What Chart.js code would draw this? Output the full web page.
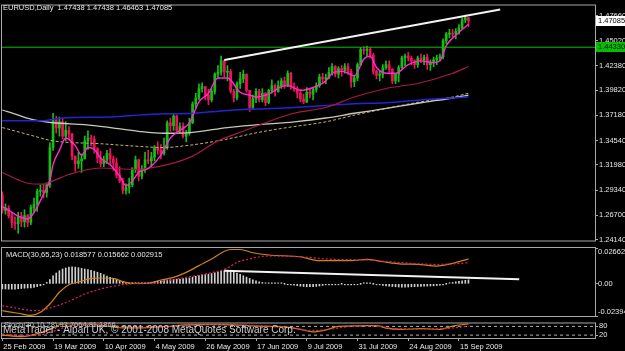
<!DOCTYPE html>
<html>
<head>
<meta charset="utf-8">
<script src="https://cdn.jsdelivr.net/npm/chart.js@4.4.0/dist/chart.umd.min.js"></script>
<style>
  html, body { margin: 0; padding: 0; background: #000; }
  #wrap { position: relative; width: 625px; height: 351px; background: #000; overflow: hidden; }
  canvas { position: absolute; left: 0; }
</style>
</head>
<body>
<div id="wrap">
  <canvas id="main" width="625" height="246" style="top:0px"></canvas>
  <canvas id="macd" width="625" height="72" style="top:246px"></canvas>
  <canvas id="stoch" width="625" height="33" style="top:318px"></canvas>
</div>
<script>
// EURUSD daily bars, 25 Feb 2009 .. 18 Sep 2009 (one row per week)
const symbolTitle = 'EURUSD,Daily';
const opens = [1.2880, 1.2720, 1.2745,
  1.2665, 1.2590, 1.2580, 1.2660, 1.2600,
  1.2665, 1.2595, 1.2750, 1.2785, 1.2920,
  1.2930, 1.2910, 1.2990, 1.3380, 1.3670,
  1.3585, 1.3650, 1.3500, 1.3560, 1.3520,
  1.3290, 1.3210, 1.3240, 1.3260, 1.3450,
  1.3480, 1.3470, 1.3370, 1.3270, 1.3210,
  1.3250, 1.3320, 1.3260, 1.3220, 1.3090,
  1.3030, 1.2930, 1.2960, 1.2990, 1.3150,
  1.3250, 1.3080, 1.3160, 1.3250, 1.3240,
  1.3280, 1.3380, 1.3350, 1.3320, 1.3380,
  1.3640, 1.3610, 1.3710, 1.3560, 1.3600,
  1.3500, 1.3530, 1.3640, 1.3840, 1.3900,
  1.4000, 1.4020, 1.3930, 1.3880, 1.3970,
  1.4150, 1.4170, 1.4290, 1.4170, 1.4180,
  1.3970, 1.3900, 1.4050, 1.4100, 1.4150,
  1.3980, 1.3800, 1.3890, 1.3970, 1.3880,
  1.3950, 1.3850, 1.3980, 1.4030, 1.3970,
  1.4030, 1.4080, 1.4030, 1.4160, 1.4020,
  1.4000, 1.3950, 1.3890, 1.3860, 1.3960,
  1.3940, 1.3990, 1.4030, 1.4120, 1.4100,
  1.4110, 1.4170, 1.4230, 1.4150, 1.4210,
  1.4190, 1.4230, 1.4180, 1.4070, 1.4110,
  1.4250, 1.4410, 1.4400, 1.4410, 1.4350,
  1.4180, 1.4140, 1.4150, 1.4220, 1.4250,
  1.4200, 1.4080, 1.4150, 1.4220, 1.4320,
  1.4340, 1.4320, 1.4290, 1.4250, 1.4320,
  1.4300, 1.4330, 1.4250, 1.4270, 1.4300,
  1.4320, 1.4330, 1.4500, 1.4570, 1.4580,
  1.4570, 1.4600, 1.4640, 1.4720, 1.47438];
const highs = [1.2915, 1.2790, 1.2770,
  1.2690, 1.2650, 1.2700, 1.2700, 1.2725,
  1.2680, 1.2775, 1.2850, 1.2945, 1.2985,
  1.2995, 1.3010, 1.3430, 1.3740, 1.3710,
  1.3700, 1.3690, 1.3650, 1.3600, 1.3530,
  1.3290, 1.3330, 1.3310, 1.3500, 1.3555,
  1.3510, 1.3500, 1.3380, 1.3340, 1.3290,
  1.3350, 1.3370, 1.3290, 1.3270, 1.3180,
  1.3060, 1.3000, 1.3060, 1.3170, 1.3290,
  1.3260, 1.3190, 1.3330, 1.3350, 1.3330,
  1.3400, 1.3440, 1.3410, 1.3480, 1.3660,
  1.3690, 1.3740, 1.3720, 1.3640, 1.3640,
  1.3560, 1.3690, 1.3860, 1.3950, 1.4050,
  1.4060, 1.4020, 1.3990, 1.4000, 1.4165,
  1.4240, 1.4340, 1.4300, 1.4240, 1.4200,
  1.3990, 1.4070, 1.4170, 1.4190, 1.4150,
  1.3980, 1.3930, 1.4000, 1.3990, 1.4000,
  1.3960, 1.3990, 1.4090, 1.4050, 1.4080,
  1.4110, 1.4120, 1.4185, 1.4170, 1.4060,
  1.4020, 1.3990, 1.3940, 1.4010, 1.4000,
  1.4010, 1.4060, 1.4150, 1.4160, 1.4150,
  1.4220, 1.4260, 1.4240, 1.4230, 1.4240,
  1.4260, 1.4260, 1.4200, 1.4140, 1.4270,
  1.4430, 1.4440, 1.4445, 1.4430, 1.4370,
  1.4190, 1.4180, 1.4250, 1.4290, 1.4290,
  1.4210, 1.4160, 1.4240, 1.4340, 1.4360,
  1.4380, 1.4340, 1.4300, 1.4340, 1.4360,
  1.4350, 1.4360, 1.4300, 1.4330, 1.4350,
  1.4360, 1.4520, 1.4590, 1.4620, 1.4620,
  1.4630, 1.4670, 1.4740, 1.4770, 1.47438];
const lows = [1.2690, 1.2680, 1.2640,
  1.2540, 1.2520, 1.2480, 1.2550, 1.2545,
  1.2550, 1.2570, 1.2700, 1.2710, 1.2870,
  1.2850, 1.2860, 1.2960, 1.3350, 1.3530,
  1.3500, 1.3470, 1.3450, 1.3460, 1.3250,
  1.3130, 1.3160, 1.3120, 1.3260, 1.3360,
  1.3400, 1.3320, 1.3220, 1.3180, 1.3180,
  1.3210, 1.3200, 1.3140, 1.3060, 1.3010,
  1.2895, 1.2890, 1.2900, 1.2970, 1.3120,
  1.3030, 1.3050, 1.3120, 1.3210, 1.3180,
  1.3240, 1.3310, 1.3260, 1.3300, 1.3360,
  1.3550, 1.3560, 1.3540, 1.3530, 1.3480,
  1.3440, 1.3510, 1.3630, 1.3790, 1.3880,
  1.3960, 1.3880, 1.3830, 1.3860, 1.3940,
  1.4110, 1.4140, 1.4120, 1.4080, 1.3950,
  1.3860, 1.3880, 1.4000, 1.4060, 1.3960,
  1.3760, 1.3780, 1.3850, 1.3860, 1.3860,
  1.3820, 1.3840, 1.3950, 1.3920, 1.3960,
  1.4000, 1.4000, 1.4020, 1.3990, 1.3970,
  1.3900, 1.3860, 1.3840, 1.3850, 1.3900,
  1.3880, 1.3960, 1.4010, 1.4060, 1.4050,
  1.4100, 1.4140, 1.4120, 1.4110, 1.4130,
  1.4160, 1.4150, 1.4010, 1.4020, 1.4080,
  1.4240, 1.4360, 1.4340, 1.4320, 1.4150,
  1.4100, 1.4080, 1.4110, 1.4200, 1.4170,
  1.4050, 1.4050, 1.4070, 1.4210, 1.4240,
  1.4290, 1.4250, 1.4210, 1.4220, 1.4270,
  1.4250, 1.4200, 1.4190, 1.4230, 1.4250,
  1.4290, 1.4310, 1.4470, 1.4530, 1.4540,
  1.4520, 1.4570, 1.4620, 1.4690, 1.46463];
const closes = [1.2720, 1.2745, 1.2665,
  1.2590, 1.2580, 1.2660, 1.2600, 1.2665,
  1.2595, 1.2750, 1.2785, 1.2920, 1.2930,
  1.2910, 1.2990, 1.3380, 1.3670, 1.3585,
  1.3650, 1.3500, 1.3560, 1.3520, 1.3290,
  1.3210, 1.3240, 1.3260, 1.3450, 1.3480,
  1.3470, 1.3370, 1.3270, 1.3210, 1.3250,
  1.3320, 1.3260, 1.3220, 1.3090, 1.3030,
  1.2930, 1.2960, 1.2990, 1.3150, 1.3250,
  1.3080, 1.3160, 1.3250, 1.3240, 1.3280,
  1.3380, 1.3350, 1.3320, 1.3380, 1.3640,
  1.3610, 1.3710, 1.3560, 1.3600, 1.3500,
  1.3530, 1.3640, 1.3840, 1.3900, 1.4000,
  1.4020, 1.3930, 1.3880, 1.3970, 1.4150,
  1.4170, 1.4290, 1.4170, 1.4180, 1.3970,
  1.3900, 1.4050, 1.4100, 1.4150, 1.3980,
  1.3800, 1.3890, 1.3970, 1.3880, 1.3950,
  1.3850, 1.3980, 1.4030, 1.3970, 1.4030,
  1.4080, 1.4030, 1.4160, 1.4020, 1.4000,
  1.3950, 1.3890, 1.3860, 1.3960, 1.3940,
  1.3990, 1.4030, 1.4120, 1.4100, 1.4110,
  1.4170, 1.4230, 1.4150, 1.4210, 1.4190,
  1.4230, 1.4180, 1.4070, 1.4110, 1.4250,
  1.4410, 1.4400, 1.4410, 1.4350, 1.4180,
  1.4140, 1.4150, 1.4220, 1.4250, 1.4200,
  1.4080, 1.4150, 1.4220, 1.4320, 1.4340,
  1.4320, 1.4290, 1.4250, 1.4320, 1.4300,
  1.4330, 1.4250, 1.4270, 1.4300, 1.4320,
  1.4330, 1.4500, 1.4570, 1.4580, 1.4570,
  1.4600, 1.4640, 1.4720, 1.47438, 1.47085];

// moving averages: [bar index, price]
const fastMA = [[0,1.2760],[2,1.2720],[5,1.2660],[8,1.2630],[10,1.2700],[13,1.2890],[15,1.3036],[16,1.3200],
  [18,1.3350],[20,1.3480],[23,1.3400],[25,1.3300],[27,1.3380],[29,1.3360],[31,1.3270],[34,1.3200],[37,1.3080],
  [39,1.2980],[41,1.3030],[43,1.3120],[46,1.3160],[50,1.3300],[53,1.3480],[56,1.3560],[59,1.3640],[62,1.3860],
  [65,1.3950],[68,1.4110],[71,1.4110],[75,1.3960],[78,1.3930],[80,1.3910],[83,1.3930],[85,1.3960],[88,1.4020],
  [90,1.4030],[94,1.3980],[98,1.4010],[102,1.4080],[104,1.4160],[107,1.4180],[109,1.4160],[111,1.4130],
  [114,1.4310],[116,1.4340],[118,1.4220],[121,1.4160],[124,1.4160],[128,1.4250],[132,1.4290],[136,1.4270],
  [138,1.4290],[140,1.4450],[143,1.4560],[147,1.4675]];
const slowMA = [[0,1.3118],[5,1.3040],[9,1.3000],[13,1.2996],[16,1.3030],[21,1.3097],[31,1.3165],[42,1.3150],
  [52,1.3200],[60,1.3290],[68,1.3450],[75,1.3540],[83,1.3640],[88,1.3700],[92,1.3740],[102,1.3800],
  [111,1.3910],[121,1.4000],[132,1.4060],[142,1.4160],[147,1.4230]];
const blueMA = [[0,1.3662],[13,1.3662],[19,1.3690],[34,1.3700],[47,1.3730],[60,1.3740],[71,1.3770],[85,1.3790],
  [92,1.3800],[102,1.3820],[111,1.3840],[121,1.3850],[132,1.3880],[142,1.3900],[147,1.3910]];
const greyMA = [[0,1.3774],[5,1.3720],[10,1.3670],[16,1.3640],[26,1.3620],[34,1.3590],[43,1.3550],[51,1.3530],
  [60,1.3540],[71,1.3590],[81,1.3620],[92,1.3650],[102,1.3690],[111,1.3740],[121,1.3790],[132,1.3850],
  [142,1.3900],[147,1.3930]];
const dashMA = [[0,1.3590],[10,1.3500],[16,1.3450],[31,1.3420],[44,1.3390],[51,1.3380],[58,1.3400],[68,1.3450],
  [81,1.3540],[88,1.3580],[92,1.3600],[102,1.3650],[111,1.3720],[121,1.3790],[132,1.3860],[142,1.3910],[147,1.3950]];
const priceTrend = [[70,1.4300],[157,1.4830]];
const levelPrice = 1.4433;
const priceTicks = [1.4766, 1.4502, 1.4238, 1.3982, 1.3718, 1.3454, 1.3198, 1.2934, 1.2670, 1.2414];

// MACD(30,65,23)
const macdHist = [-0.0038, -0.0039, -0.0040,
  -0.0040, -0.0039, -0.0037, -0.0035, -0.0033,
  -0.0031, -0.0030, -0.0026, -0.0021, -0.0015,
  -0.0008, 0.0010, 0.0032, 0.0060, 0.0080,
  0.0097, 0.0110, 0.0118, 0.0124, 0.0126,
  0.0124, 0.0120, 0.0115, 0.0110, 0.0106,
  0.0100, 0.0094, 0.0086, 0.0078, 0.0068,
  0.0058, 0.0049, 0.0040, 0.0032, 0.0024,
  0.0016, 0.0010, 0.0007, 0.0005, 0.0005,
  0.0004, 0.0005, 0.0006, 0.0008, 0.0012,
  0.0016, 0.0019, 0.0022, 0.0024, 0.0028,
  0.0030, 0.0033, 0.0034, 0.0036, 0.0038,
  0.0040, 0.0044, 0.0050, 0.0056, 0.0062,
  0.0066, 0.0069, 0.0072, 0.0076, 0.0082,
  0.0088, 0.0094, 0.0097, 0.0098, 0.0094,
  0.0088, 0.0080, 0.0070, 0.0060, 0.0050,
  0.0040, 0.0030, 0.0022, 0.0015, 0.0010,
  0.0006, 0.0004, 0.0003, 0.0002, 0.0001,
  0.0001, 0.0000, -0.0003, -0.0006, -0.0010,
  -0.0014, -0.0018, -0.0020, -0.0022, -0.0022,
  -0.0021, -0.0019, -0.0016, -0.0012, -0.0008,
  -0.0005, -0.0003, -0.0002, -0.0001, 0.0000,
  -0.0001, -0.0002, -0.0003, -0.0003, -0.0002,
  0.0000, 0.0002, 0.0003, 0.0002, 0.0000,
  -0.0004, -0.0008, -0.0012, -0.0015, -0.0018,
  -0.0020, -0.0022, -0.0024, -0.0025, -0.0025,
  -0.0024, -0.0022, -0.0021, -0.0020, -0.0019,
  -0.0018, -0.0017, -0.0016, -0.0015, -0.0013,
  -0.0010, -0.0005, 0.0000, 0.0005, 0.0010,
  0.0015, 0.0019, 0.0023, 0.0026, 0.002915];
const macdMain = [[0,-0.0200],[5,-0.0219],[9,-0.0235],[12,-0.0212],[15,-0.0150],[18,-0.0063],[21,-0.0007],
  [25,0.0019],[28,0.0041],[31,0.0043],[35,0.0041],[38,0.0016],[41,0.0004],[46,0.0004],[50,0.0028],[54,0.0048],
  [58,0.0085],[62,0.0135],[66,0.0184],[70,0.0242],[72,0.0255],[75,0.0255],[79,0.0231],[84,0.0214],[94,0.0201],
  [100,0.0172],[110,0.0172],[115,0.0182],[120,0.0164],[126,0.0147],[131,0.0145],[137,0.0132],[142,0.0152],[147,0.018577]];
const macdSignal = [[0,-0.0163],[6,-0.0187],[10,-0.0200],[15,-0.0180],[21,-0.0130],[26,-0.0076],[31,-0.0039],
  [36,-0.0014],[41,0.0000],[47,0.0004],[52,0.0023],[58,0.0048],[65,0.0078],[71,0.0117],[74,0.0160],[77,0.0180],
  [84,0.0207],[94,0.0201],[104,0.0182],[115,0.0177],[126,0.0157],[136,0.0145],[142,0.0148],[147,0.015662]];
const macdTrend = [[70,0.0097],[163,0.0033]];
const macdMax = 0.02662, macdMin = -0.02394;

// Stochastic(30,10,28)
const stochK = [[0,20],[6,10],[12,35],[16,70],[19,98],[24,99],[30,90],[38,70],[46,72],[52,80],[58,90],[66,94],
  [73,91],[80,82],[88,78],[94,60],[98,42],[102,55],[106,80],[112,84],[118,86],[121,68],[126,60],[132,64],
  [138,60],[142,82],[147,97.7664]];
const stochD = [[0,28],[8,16],[14,30],[20,75],[26,95],[34,88],[42,74],[50,76],[58,86],[66,92],[74,90],[82,84],
  [90,74],[98,52],[104,62],[110,80],[118,82],[124,64],[132,62],[140,66],[147,81.1866]];
const stochLevels = [80, 20];

const dateTicks = [0, 16, 32, 48, 64, 80, 96, 112, 128, 144];
const dateLabels = ['25 Feb 2009', '19 Mar 2009', '10 Apr 2009', '4 May 2009', '26 May 2009',
  '17 Jun 2009', '9 Jul 2009', '31 Jul 2009', '24 Aug 2009', '15 Sep 2009'];

const xMin = -0.1, xMax = 186.9;
const bull = '#12c012', bear = '#f0125c', frameColor = '#a8a8a8', textColor = '#e6e6e6';
const FONT = '"Liberation Sans", Arial, sans-serif';

Chart.defaults.font.family = FONT;
Chart.defaults.font.size = 7.5;
Chart.defaults.color = textColor;
Chart.defaults.animation = false;

function pts(arr) { return arr.map(p => ({ x: p[0], y: p[1] })); }

function lineSet(arr, color, width, dash, order) {
  return {
    type: 'line', data: pts(arr), borderColor: color, borderWidth: width, borderDash: dash || [],
    pointRadius: 0, cubicInterpolationMode: 'monotone', fill: false, order: order
  };
}

function hiddenX() {
  return { type: 'linear', display: false, min: xMin, max: xMax, offset: false, grid: { offset: false } };
}

function rightY(min, max, ticks, showLabels, fmt) {
  return {
    position: 'right', min: min, max: max,
    afterFit(axis) { axis.width = 30; },
    afterBuildTicks(axis) { axis.ticks = ticks.map(v => ({ value: v })); },
    grid: { drawOnChartArea: false, drawTicks: true, tickLength: 3, color: frameColor },
    border: { display: true, color: frameColor },
    ticks: { display: showLabels, padding: 1, color: textColor, autoSkip: false, callback: fmt }
  };
}

function drawFrame(chart) {
  const a = chart.chartArea, ctx = chart.ctx;
  ctx.strokeStyle = frameColor;
  ctx.lineWidth = 1;
  ctx.strokeRect(a.left - 0.5, a.top - 0.5, a.right - a.left + 1, a.bottom - a.top + 1);
}

const baseOpts = { responsive: false, devicePixelRatio: 1, events: [],
  plugins: { legend: { display: false }, tooltip: { enabled: false } } };

// ---- main price pane ----
const last = closes.length - 1;
const titleText = symbolTitle + '  ' + [opens[last], highs[last], lows[last], closes[last]].map(v => v.toFixed(5)).join(' ');

new Chart(document.getElementById('main'), {
  type: 'bar',
  data: {
    datasets: [
      { type: 'bar', data: closes.map((c, i) => ({ x: i, y: [lows[i], highs[i]] })),
        backgroundColor: closes.map((c, i) => c >= opens[i] ? bull : bear),
        barThickness: 1, grouped: false, borderWidth: 0, order: 20 },
      { type: 'bar', data: closes.map((c, i) => ({ x: i, y: [opens[i], c] })),
        backgroundColor: closes.map((c, i) => c >= opens[i] ? bull : bear),
        barThickness: 2, grouped: false, borderWidth: 0, minBarLength: 1, borderSkipped: false, order: 19 },
      lineSet(dashMA, '#c8b070', 1, [3, 2], 8),
      lineSet(greyMA, '#c8c8bc', 1.3, [], 7),
      lineSet(blueMA, '#2424d4', 1.5, [], 6),
      lineSet(slowMA, '#a81848', 1.2, [], 5),
      lineSet(fastMA, '#ff2ad0', 1.4, [], 4),
      { type: 'line', data: [{ x: xMin, y: levelPrice }, { x: xMax, y: levelPrice }],
        borderColor: '#00c000', borderWidth: 1, pointRadius: 0, order: 3 },
      { type: 'line', data: pts(priceTrend), borderColor: '#f2f2f2', borderWidth: 2, pointRadius: 0, order: 2 }
    ]
  },
  options: Object.assign({}, baseOpts, {
    layout: { padding: { top: 3, bottom: 1, left: 2, right: 0 } },
    scales: {
      x: hiddenX(),
      y: rightY(1.24041, 1.48710, priceTicks, true, v => Number(v).toFixed(5))
    }
  }),
  plugins: [{
    id: 'mainText',
    afterDraw(chart) {
      const ctx = chart.ctx, a = chart.chartArea, ys = chart.scales.y;
      ctx.save();
      drawFrame(chart);
      ctx.font = '7.5px ' + FONT;
      ctx.textBaseline = 'middle';
      ctx.fillStyle = textColor;
      ctx.fillText(titleText, 3, 8);
      const boxes = [[closes[last], '#ffffff'], [levelPrice, '#00c000']];
      boxes.forEach(b => {
        const py = ys.getPixelForValue(b[0]);
        ctx.fillStyle = b[1];
        ctx.fillRect(a.right + 1, Math.round(py) - 5, 30, 10);
        ctx.fillStyle = '#000';
        ctx.fillText(b[0].toFixed(5), a.right + 3, Math.round(py));
      });
      ctx.restore();
    }
  }]
});

// ---- MACD pane ----
const macdLabels = [[macdMax, macdMax.toFixed(5), 4], [0, '0.00', 0], [macdMin, macdMin.toFixed(5), -4]];
new Chart(document.getElementById('macd'), {
  type: 'bar',
  data: {
    datasets: [
      { type: 'bar', data: macdHist.map((v, i) => ({ x: i, y: v })), backgroundColor: '#cfcfcf',
        barThickness: 1, grouped: false, borderWidth: 0, minBarLength: 1, order: 10 },
      lineSet(macdMain, '#d08412', 1.2, [], 4),
      lineSet(macdSignal, '#e0206a', 1.2, [2, 2], 3),
      { type: 'line', data: pts(macdTrend), borderColor: '#f2f2f2', borderWidth: 2, pointRadius: 0, order: 2 }
    ]
  },
  options: Object.assign({}, baseOpts, {
    layout: { padding: { top: 2, bottom: 2, left: 2, right: 0 } },
    scales: {
      x: hiddenX(),
      y: rightY(macdMin, macdMax, [macdMax, 0, macdMin], false)
    }
  }),
  plugins: [{
    id: 'macdText',
    afterDraw(chart) {
      const ctx = chart.ctx, a = chart.chartArea, ys = chart.scales.y;
      ctx.save();
      drawFrame(chart);
      ctx.font = '7.5px ' + FONT;
      ctx.textBaseline = 'middle';
      ctx.fillStyle = textColor;
      ctx.fillText('MACD(30,65,23) ' + macdMain[macdMain.length - 1][1].toFixed(6) + ' ' +
        macdSignal[macdSignal.length - 1][1].toFixed(6) + ' ' + macdHist[last].toFixed(6), 6, 9);
      macdLabels.forEach(l => {
        ctx.fillText(l[1], a.right + 3, ys.getPixelForValue(l[0]) + l[2]);
      });
      ctx.restore();
    }
  }]
});

// ---- Stochastic pane + time axis ----
new Chart(document.getElementById('stoch'), {
  type: 'line',
  data: {
    datasets: [
      lineSet(stochD, '#e0206a', 1.2, [2, 2], 3),
      lineSet(stochK, '#d08412', 1.2, [], 4),
      ...stochLevels.map(v => ({ type: 'line', data: [{ x: xMin, y: v }, { x: xMax, y: v }],
        borderColor: '#b0b0b0', borderWidth: 1, borderDash: [3, 3], pointRadius: 0, order: 5 }))
    ]
  },
  options: Object.assign({}, baseOpts, {
    layout: { padding: { top: 2, bottom: 0, left: 2, right: 0 } },
    scales: {
      x: {
        type: 'linear', min: xMin, max: xMax, offset: false,
        afterFit(axis) { axis.height = 13; },
        afterBuildTicks(axis) { axis.ticks = dateTicks.map(v => ({ value: v })); },
        grid: { drawOnChartArea: false, drawTicks: true, tickLength: 3, color: frameColor },
        border: { display: true, color: frameColor },
        ticks: { align: 'start', labelOffset: 1, padding: 1, maxRotation: 0, autoSkip: false, color: textColor,
          callback: v => dateLabels[dateTicks.indexOf(v)] }
      },
      y: rightY(0, 100, stochLevels, true, v => String(v))
    }
  }),
  plugins: [{
    id: 'stochText',
    afterDraw(chart) {
      const ctx = chart.ctx;
      ctx.save();
      drawFrame(chart);
      ctx.textBaseline = 'middle';
      ctx.font = '7.5px ' + FONT;
      ctx.fillStyle = '#bdbdbd';
      ctx.fillText('Stoch(30,10,28) ' + stochK[stochK.length - 1][1].toFixed(4) + ' ' +
        stochD[stochD.length - 1][1].toFixed(4), 4, 7);
      ctx.font = '10px ' + FONT;
      ctx.fillStyle = '#cfcfcf';
      ctx.fillText('MetaTrader - Alpari UK, \u00a9 2001-2008 MetaQuotes Software Corp.', 3, 12);
      ctx.restore();
    }
  }]
});
</script>
</body>
</html>
